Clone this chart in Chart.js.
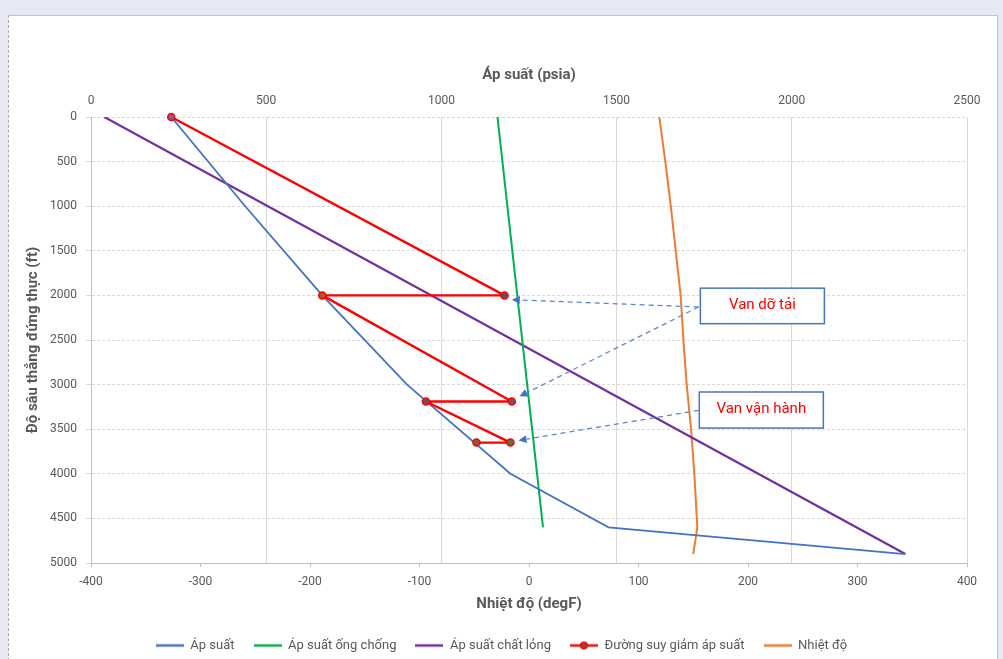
<!DOCTYPE html>
<html lang="vi">
<head>
<meta charset="utf-8">
<title>Biểu đồ áp suất và nhiệt độ theo độ sâu</title>
<script src="https://cdn.jsdelivr.net/npm/chart.js@4.4.1/dist/chart.umd.min.js"></script>
<style>
  html, body { margin: 0; padding: 0; background: #E6E9F4; }
  #wrap { position: relative; width: 1003px; height: 659px; background: #E6E9F4; overflow: hidden; }
  #panel { position: absolute; left: 8px; top: 15px; width: 988px; height: 660px; background: #fff;
           border-top: 1px solid #c3c3c3; border-left: 1px dashed #a8a8a8; border-right: 1px solid #c3c3c3; }
  #chart { position: absolute; left: 0; top: 0; }
</style>
</head>
<body>
<div id="wrap">
  <div id="panel"></div>
  <canvas id="chart" width="1003" height="659"></canvas>
</div>
<script>
// Tick values for the three axes
const pressureTicks = [0, 500, 1000, 1500, 2000, 2500];
const temperatureTicks = [-400, -300, -200, -100, 0, 100, 200, 300, 400];
const depthTicks = [0, 500, 1000, 1500, 2000, 2500, 3000, 3500, 4000, 4500, 5000];

// Series names (legend)
const seriesNames = ['Áp suất', 'Áp suất ống chống', 'Áp suất chất lỏng', 'Đường suy giảm áp suất', 'Nhiệt độ'];

// Tubing pressure (psia) vs depth (ft)
const tubingDepth = [0, 1000, 2000, 3000, 4000, 4600, 4900];
const tubingPressure = [229, 440, 660, 902, 1197, 1477, 2324];

// Casing pressure (psia)
const casingDepth = [0, 4600];
const casingPressure = [1160, 1290];

// Fluid pressure (psia)
const fluidDepth = [0, 4900];
const fluidPressure = [38, 2324];

// Pressure decline path through the valves (psia)
const declineDepth = [0, 2000, 2000, 3190, 3190, 3650, 3650];
const declinePressure = [229, 1180, 660, 1201, 956, 1197, 1100];

// Temperature (degF)
const tempDepth = [0, 500, 1000, 1500, 2000, 2500, 3000, 3500, 4000, 4600, 4900];
const temperature = [119, 124.5, 129.5, 134, 138.5, 141, 144, 148, 151, 153.7, 150];

// Valve callouts, in axis units (psia, ft)
const callouts = [
  { text: 'Van dỡ tải', box: [1739, 1919, 2093, 2317], from: [1734, 2130], to: [[1201, 2048], [1223, 3132]] },
  { text: 'Van vận hành', box: [1736, 3083, 2090, 3487], from: [1734, 3289], to: [[1220, 3626]] }
];

const FONT = 'Roboto';
const GREY_TEXT = '#595959';
Chart.defaults.font.family = FONT;
Chart.defaults.color = GREY_TEXT;

// plot-area bottom edge and the canvas bottom padding used by the layout
const PLOT_BOTTOM = 563;
const PAD_BOTTOM = -3;

const pts = (xs, ys) => xs.map((v, i) => ({ x: v, y: ys[i] }));
const plain = v => String(v);

function legendIcon(color, marker) {
  const c = document.createElement('canvas');
  c.width = 28; c.height = 10;
  const g = c.getContext('2d');
  g.strokeStyle = color; g.lineWidth = 2.5;
  g.beginPath(); g.moveTo(0, 5); g.lineTo(28, 5); g.stroke();
  if (marker) {
    g.fillStyle = '#8a4b3a'; g.strokeStyle = color; g.lineWidth = 1.5;
    g.beginPath(); g.arc(14, 5, 3.3, 0, Math.PI * 2); g.fill(); g.stroke();
  }
  return c;
}

const colors = ['#4472C4', '#00B050', '#7030A0', '#FF0000', '#ED7D31'];

const calloutPlugin = {
  id: 'valveCallouts',
  afterDatasetsDraw(chart) {
    const { ctx } = chart;
    const xs = chart.scales.xP, ys = chart.scales.y;
    ctx.save();
    callouts.forEach(c => {
      const fx = xs.getPixelForValue(c.from[0]), fy = ys.getPixelForValue(c.from[1]);
      c.to.forEach(t => {
        const tx = xs.getPixelForValue(t[0]), ty = ys.getPixelForValue(t[1]);
        const ang = Math.atan2(ty - fy, tx - fx);
        const headLen = 8, headW = 4;
        const bx = tx - headLen * Math.cos(ang), by = ty - headLen * Math.sin(ang);
        ctx.strokeStyle = '#5B86D2';
        ctx.lineWidth = 1.3;
        ctx.setLineDash([5, 4]);
        ctx.beginPath(); ctx.moveTo(fx, fy); ctx.lineTo(bx, by); ctx.stroke();
        ctx.setLineDash([]);
        ctx.fillStyle = '#4472C4';
        ctx.beginPath();
        ctx.moveTo(tx, ty);
        ctx.lineTo(bx + headW * Math.sin(ang), by - headW * Math.cos(ang));
        ctx.lineTo(bx - headW * Math.sin(ang), by + headW * Math.cos(ang));
        ctx.closePath(); ctx.fill();
      });
      const x0 = xs.getPixelForValue(c.box[0]), y0 = ys.getPixelForValue(c.box[1]);
      const x1 = xs.getPixelForValue(c.box[2]), y1 = ys.getPixelForValue(c.box[3]);
      ctx.fillStyle = '#ffffff';
      ctx.fillRect(x0, y0, x1 - x0, y1 - y0);
      ctx.strokeStyle = '#4A76C0';
      ctx.lineWidth = 1.5;
      ctx.strokeRect(x0, y0, x1 - x0, y1 - y0);
      ctx.fillStyle = '#FF0000';
      ctx.font = '15px ' + FONT;
      ctx.textAlign = 'center';
      ctx.textBaseline = 'middle';
      ctx.fillText(c.text, (x0 + x1) / 2, (y0 + y1) / 2 - 1);
    });
    ctx.restore();
  }
};

const setTicks = arr => scale => { scale.ticks = arr.map(v => ({ value: v })); };

new Chart(document.getElementById('chart'), {
  type: 'scatter',
  data: {
    datasets: [
      { label: seriesNames[0], data: pts(tubingPressure, tubingDepth), xAxisID: 'xP', yAxisID: 'y',
        borderColor: colors[0], borderWidth: 1.8, order: 2 },
      { label: seriesNames[1], data: pts(casingPressure, casingDepth), xAxisID: 'xP', yAxisID: 'y',
        borderColor: colors[1], borderWidth: 2, order: 3 },
      { label: seriesNames[2], data: pts(fluidPressure, fluidDepth), xAxisID: 'xP', yAxisID: 'y',
        borderColor: colors[2], borderWidth: 2.2, order: 4 },
      { label: seriesNames[3], data: pts(declinePressure, declineDepth), xAxisID: 'xP', yAxisID: 'y',
        borderColor: colors[3], borderWidth: 2.4, order: 1, clip: false,
        pointRadius: 3.5, pointBorderWidth: 1.5, pointBorderColor: '#FF0000',
        pointBackgroundColor: ['#6f6a9a', '#6a4f5a', '#b5522e', '#5f5a7e', '#6a4f6a', '#5f7048', '#8a5a3a'] },
      { label: seriesNames[4], data: pts(temperature, tempDepth), xAxisID: 'xT', yAxisID: 'y',
        borderColor: colors[4], borderWidth: 2, order: 5 }
    ].map(d => Object.assign({ showLine: true, pointRadius: 0, fill: false, tension: 0 }, d))
  },
  options: {
    responsive: false,
    animation: false,
    events: [],
    layout: { padding: { left: 0, right: 0, top: 0, bottom: PAD_BOTTOM } },
    plugins: {
      tooltip: { enabled: false },
      legend: {
        position: 'bottom',
        labels: {
          usePointStyle: true,
          pointStyleWidth: 28,
          padding: 19,
          color: GREY_TEXT,
          font: { size: 13 },
          sort: (a, b) => a.datasetIndex - b.datasetIndex,
          generateLabels: chart => chart.data.datasets.map((ds, i) => ({
            text: ds.label,
            datasetIndex: i,
            hidden: false,
            fontColor: GREY_TEXT,
            lineWidth: 0,
            strokeStyle: 'rgba(0,0,0,0)',
            fillStyle: 'rgba(0,0,0,0)',
            pointStyle: legendIcon(ds.borderColor, i === 3)
          }))
        }
      }
    },
    scales: {
      xP: {
        type: 'linear', position: 'top', min: 0, max: 2500,
        afterBuildTicks: setTicks(pressureTicks),
        afterFit: s => { s.height = 117; },
        ticks: { color: GREY_TEXT, font: { size: 12 }, padding: 9, maxRotation: 0, callback: plain },
        grid: { color: '#d9d9d9', lineWidth: 1, drawTicks: false },
        border: { display: false },
        title: { display: true, text: 'Áp suất (psia)', color: GREY_TEXT,
                 font: { size: 15, weight: 'bold' }, padding: { top: 66, bottom: 0 } }
      },
      xT: {
        type: 'linear', position: 'bottom', min: -400, max: 400,
        afterBuildTicks: setTicks(temperatureTicks),
        afterFit: s => {
          const legendH = s.chart.legend ? s.chart.legend.height : 42;
          s.height = (659 - PAD_BOTTOM) - PLOT_BOTTOM - legendH;
        },
        ticks: { color: GREY_TEXT, font: { size: 12 }, padding: 8, maxRotation: 0, callback: plain },
        grid: { drawOnChartArea: false, color: '#bfbfbf', tickLength: 4 },
        border: { color: '#bfbfbf', width: 1 },
        title: { display: true, text: 'Nhiệt độ (degF)', color: GREY_TEXT,
                 font: { size: 15, weight: 'bold' }, padding: { top: 0, bottom: 7 } }
      },
      y: {
        type: 'linear', position: 'left', reverse: true, min: 0, max: 5000,
        afterBuildTicks: setTicks(depthTicks),
        afterFit: s => { s.width = 91; },
        ticks: { color: GREY_TEXT, font: { size: 12 }, padding: 9, callback: plain },
        grid: { color: '#d9d9d9', lineWidth: 1, tickLength: 5 },
        border: { color: '#bfbfbf', width: 1, dash: [3, 2] },
        title: { display: true, text: 'Độ sâu thẳng đứng thực (ft)', color: GREY_TEXT,
                 font: { size: 15, weight: 'bold' }, padding: { top: 24, bottom: 0 } }
      },
      yR: {
        type: 'linear', position: 'right', min: 0, max: 1,
        afterFit: s => { s.width = 36; },
        ticks: { display: false },
        grid: { display: false },
        border: { display: false }
      }
    }
  },
  plugins: [calloutPlugin]
});
</script>
</body>
</html>
